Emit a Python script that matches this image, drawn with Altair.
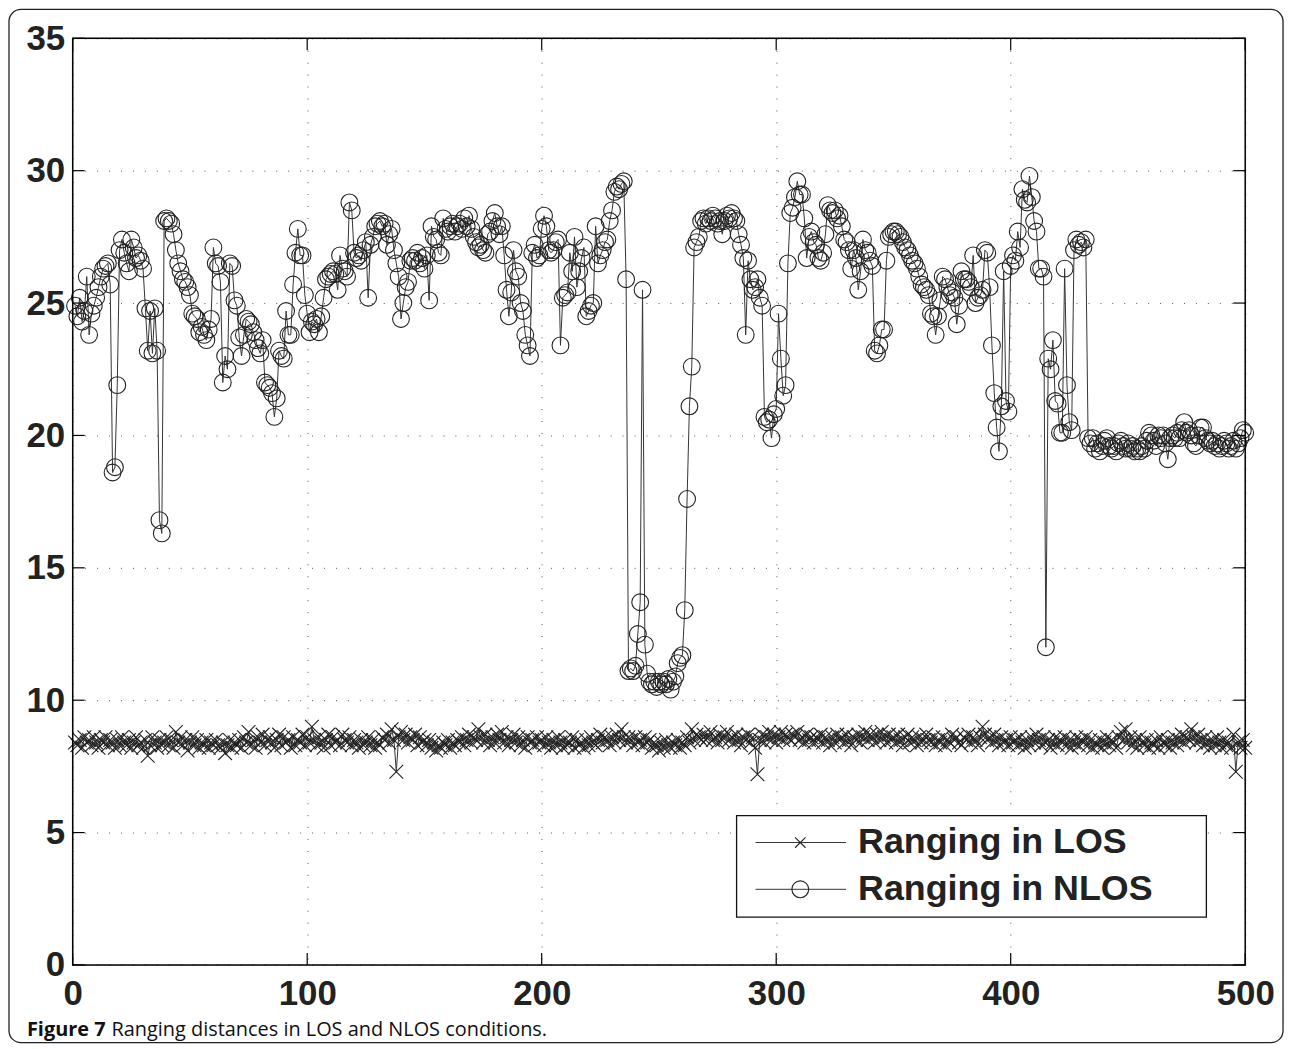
import altair as alt
import pandas as pd

# ---------------- data ----------------
x_index = list(range(1, 501))

los = [
    8.4, 8.3, 8.5, 8.2, 8.6, 8.4, 8.5, 8.3, 8.6, 8.4, 8.2, 8.5, 8.4, 8.6, 8.3, 8.5, 8.4, 8.2, 8.5, 8.3,
    8.6, 8.4, 8.3, 8.5, 8.2, 8.4, 8.6, 8.3, 8.4, 8.2, 8.5, 7.9, 8.3, 8.6, 8.4, 8.2, 8.5, 8.3, 8.4, 8.6,
    8.3, 8.5, 8.2, 8.8, 8.4, 8.6, 8.3, 8.5, 8.1, 8.4, 8.6, 8.3, 8.5, 8.2, 8.4, 8.3, 8.5, 8.2, 8.4, 8.3,
    8.5, 8.3, 8.2, 8.4, 8.0, 8.3, 8.5, 8.2, 8.4, 8.3, 8.5, 8.2, 8.6, 8.4, 8.8, 8.3, 8.5, 8.2, 8.6, 8.4,
    8.7, 8.3, 8.5, 8.6, 8.4, 8.2, 8.5, 8.7, 8.3, 8.6, 8.4, 8.5, 8.2, 8.6, 8.3, 8.5, 8.4, 8.7, 8.3, 8.6,
    8.4, 9.0, 8.5, 8.3, 8.6, 8.4, 8.2, 8.5, 8.7, 8.3, 8.6, 8.4, 8.5, 8.3, 8.7, 8.5, 8.4, 8.6, 8.3, 8.5,
    8.4, 8.2, 8.5, 8.3, 8.4, 8.6, 8.3, 8.5, 8.2, 8.4, 8.3, 8.6, 8.5, 8.7, 8.4, 8.9, 8.5, 7.3, 8.6, 8.8,
    8.5, 8.7, 8.4, 8.6, 8.5, 8.7, 8.3, 8.6, 8.4, 8.5, 8.3, 8.5, 8.2, 8.4, 8.1, 8.3, 8.2, 8.4, 8.3, 8.5,
    8.2, 8.4, 8.3, 8.5, 8.4, 8.6, 8.3, 8.5, 8.7, 8.4, 8.6, 8.5, 8.9, 8.6, 8.4, 8.7, 8.5, 8.3, 8.6, 8.4,
    8.7, 8.5, 8.8, 8.4, 8.6, 8.3, 8.5, 8.7, 8.4, 8.6, 8.3, 8.5, 8.2, 8.6, 8.4, 8.5, 8.3, 8.6, 8.4, 8.5,
    8.3, 8.6, 8.4, 8.2, 8.5, 8.3, 8.6, 8.4, 8.2, 8.5, 8.3, 8.4, 8.6, 8.2, 8.5, 8.3, 8.4, 8.2, 8.5, 8.3,
    8.6, 8.4, 8.3, 8.5, 8.7, 8.4, 8.6, 8.5, 8.3, 8.6, 8.4, 8.7, 8.5, 8.9, 8.6, 8.4, 8.6, 8.5, 8.3, 8.6,
    8.4, 8.5, 8.3, 8.6, 8.4, 8.5, 8.2, 8.4, 8.3, 8.1, 8.4, 8.2, 8.5, 8.3, 8.2, 8.4, 8.3, 8.5, 8.2, 8.4,
    8.3, 8.6, 8.4, 8.9, 8.5, 8.7, 8.6, 8.5, 8.7, 8.5, 8.6, 8.8, 8.5, 8.6, 8.4, 8.7, 8.5, 8.6, 8.8, 8.5,
    8.6, 8.4, 8.7, 8.5, 8.3, 8.6, 8.5, 8.7, 8.4, 8.6, 8.2, 7.2, 8.5, 8.7, 8.4, 8.6, 8.8, 8.5, 8.7, 8.4,
    8.6, 8.8, 8.5, 8.7, 8.6, 8.5, 8.7, 8.6, 8.8, 8.5, 8.6, 8.4, 8.7, 8.5, 8.6, 8.4, 8.6, 8.5, 8.7, 8.4,
    8.6, 8.5, 8.3, 8.6, 8.4, 8.7, 8.5, 8.6, 8.4, 8.7, 8.5, 8.3, 8.6, 8.5, 8.7, 8.4, 8.6, 8.8, 8.5, 8.7,
    8.6, 8.4, 8.7, 8.5, 8.8, 8.6, 8.4, 8.7, 8.5, 8.6, 8.4, 8.7, 8.5, 8.3, 8.6, 8.7, 8.4, 8.6, 8.5, 8.3,
    8.6, 8.4, 8.5, 8.7, 8.5, 8.4, 8.6, 8.3, 8.5, 8.4, 8.6, 8.3, 8.5, 8.4, 8.7, 8.5, 8.6, 8.4, 8.3, 8.6,
    8.5, 8.7, 8.4, 8.6, 8.5, 8.3, 8.6, 9.0, 8.7, 8.5, 8.6, 8.4, 8.7, 8.5, 8.3, 8.6, 8.4, 8.5, 8.3, 8.6,
    8.4, 8.5, 8.3, 8.6, 8.4, 8.2, 8.5, 8.3, 8.6, 8.4, 8.7, 8.5, 8.3, 8.6, 8.4, 8.5, 8.2, 8.4, 8.6, 8.3,
    8.5, 8.4, 8.6, 8.3, 8.5, 8.2, 8.4, 8.6, 8.3, 8.5, 8.4, 8.6, 8.3, 8.5, 8.2, 8.4, 8.3, 8.5, 8.2, 8.4,
    8.6, 8.3, 8.5, 8.4, 8.2, 8.6, 8.8, 8.5, 8.9, 8.4, 8.6, 8.3, 8.5, 8.2, 8.6, 8.4, 8.3, 8.5, 8.2, 8.4,
    8.3, 8.5, 8.2, 8.6, 8.4, 8.3, 8.5, 8.2, 8.4, 8.6, 8.3, 8.5, 8.7, 8.4, 8.6, 8.5, 8.9, 8.6, 8.4, 8.7,
    8.5, 8.3, 8.6, 8.4, 8.2, 8.5, 8.3, 8.6, 8.4, 8.2, 8.5, 8.3, 8.4, 8.2, 8.7, 7.3, 8.4, 8.2, 8.5, 8.2,
]

nlos = [
    24.9, 24.5, 25.2, 24.3, 24.7, 26.0, 23.8, 24.6, 24.9, 25.2,
    25.6, 26.0, 26.3, 26.4, 26.5, 25.7, 18.6, 18.8, 21.9, 27.0,
    27.4, 26.9, 26.5, 26.2, 27.4, 27.1, 26.7, 26.8, 26.6, 26.3,
    24.8, 23.2, 24.7, 23.1, 24.8, 23.2, 16.8, 16.3, 28.1, 28.2,
    28.1, 28.0, 27.6, 27.0, 26.5, 26.2, 25.9, 25.8, 25.6, 25.3,
    24.6, 24.5, 24.4, 23.9, 24.1, 23.8, 23.6, 24.0, 24.4, 27.1,
    26.5, 26.4, 25.8, 22.0, 23.0, 22.5, 26.5, 26.4, 25.1, 24.9,
    23.7, 23.0, 23.8, 24.4, 24.3, 24.2, 23.9, 23.6, 23.3, 23.1,
    23.6, 22.0, 21.9, 21.8, 21.6, 20.7, 21.4, 23.2, 23.0, 22.9,
    24.7, 23.8, 23.8, 25.7, 26.9, 27.8, 26.8, 26.8, 25.3, 24.6,
    23.9, 24.3, 24.2, 24.4, 23.9, 24.5, 25.2, 25.9, 26.0, 26.1,
    26.2, 26.1, 25.5, 26.8, 26.3, 26.2, 26.0, 28.8, 28.5, 26.9,
    26.7, 26.8, 26.6, 27.0, 27.3, 25.2, 27.2, 27.5, 27.9, 28.0,
    28.1, 27.9, 28.0, 27.2, 27.6, 27.8, 27.0, 26.5, 26.0, 24.4,
    25.0, 25.6, 25.8, 26.6, 26.7, 26.6, 26.9, 26.5, 26.7, 26.3,
    26.8, 25.1, 27.9, 27.5, 27.4, 26.9, 26.8, 28.2, 27.8, 27.7,
    27.9, 28.0, 27.7, 27.9, 28.0, 27.8, 28.2, 27.9, 28.3, 27.8,
    27.5, 27.3, 27.1, 27.2, 27.0, 26.9, 27.6, 27.7, 28.1, 28.4,
    27.9, 27.6, 27.9, 26.8, 25.5, 24.5, 25.4, 27.0, 26.2, 26.0,
    25.0, 24.7, 23.8, 23.4, 23.0, 26.9, 27.2, 26.7, 26.8, 27.8,
    28.3, 27.9, 27.0, 26.9, 27.0, 27.3, 27.4, 23.4, 25.2, 25.3,
    25.4, 26.9, 26.2, 27.5, 25.6, 26.2, 26.7, 27.1, 24.5, 24.7,
    24.9, 25.0, 27.9, 26.5, 26.8, 27.0, 27.3, 27.4, 28.1, 28.5,
    29.2, 29.4, 29.3, 29.5, 29.6, 25.9, 11.1, 11.2, 11.1, 11.3,
    12.5, 13.7, 25.5, 12.1, 11.0, 10.7, 10.6, 10.7, 10.5, 10.7,
    10.6, 10.7, 10.6, 10.8, 10.4, 10.7, 10.9, 11.4, 11.6, 11.7,
    13.4, 17.6, 21.1, 22.6, 27.1, 27.3, 27.5, 28.1, 28.2, 28.0,
    28.2, 28.1, 28.3, 28.2, 28.0, 28.1, 27.6, 28.1, 28.3, 28.2,
    28.4, 28.2, 28.1, 27.6, 27.2, 26.7, 23.8, 26.6, 25.9, 25.5,
    25.6, 25.9, 25.2, 24.9, 20.7, 20.5, 20.6, 19.9, 20.8, 21.0,
    24.6, 22.9, 21.5, 21.9, 26.5, 28.4, 28.6, 29.0, 29.6, 29.1,
    29.1, 28.2, 26.7, 27.5, 27.7, 27.3, 27.2, 26.7, 26.6, 26.9,
    27.6, 28.7, 28.5, 28.4, 28.5, 28.2, 28.3, 27.9, 27.4, 27.3,
    27.0, 26.3, 27.0, 26.7, 25.5, 26.2, 27.4, 27.0, 26.9, 26.6,
    26.4, 23.2, 23.1, 23.4, 24.0, 24.0, 26.6, 27.5, 27.6, 27.7,
    27.7, 27.6, 27.5, 27.3, 27.1, 27.0, 26.8, 26.6, 26.5, 26.3,
    26.0, 25.7, 25.6, 25.5, 25.3, 24.6, 24.5, 23.8, 24.5, 25.1,
    26.0, 25.9, 25.6, 25.3, 25.4, 25.2, 24.2, 24.9, 26.2, 25.9,
    25.9, 25.8, 25.6, 26.8, 25.0, 25.2, 25.3, 25.5, 27.0, 26.9,
    25.6, 23.4, 21.6, 20.3, 19.4, 21.1, 26.2, 21.3, 20.9, 26.4,
    26.8, 26.6, 27.7, 27.1, 29.3, 28.9, 28.8, 29.8, 29.0, 28.1,
    27.7, 26.3, 26.3, 26.0, 12.0, 22.9, 22.5, 23.6, 21.3, 21.2,
    20.1, 20.1, 26.3, 21.9, 20.5, 20.2, 27.0, 27.4, 27.2, 27.3,
    27.1, 27.4, 19.9, 19.7, 19.9, 19.5, 19.7, 19.4, 19.6, 19.8,
    19.9, 19.6, 19.5, 19.6, 19.4, 19.7, 19.8, 19.6, 19.5, 19.7,
    19.5, 19.6, 19.4, 19.5, 19.4, 19.6, 19.5, 19.8, 20.1, 20.0,
    19.8, 19.6, 20.0, 19.9, 20.0, 19.7, 19.1, 19.9, 20.0, 19.9,
    20.1, 19.9, 20.2, 20.5, 20.1, 20.2, 20.0, 19.7, 19.6, 20.0,
    20.3, 20.3, 19.9, 19.8, 19.7, 19.8, 19.6, 19.7, 19.5, 19.6,
    19.8, 19.7, 19.5, 19.6, 19.8, 19.5, 19.7, 19.9, 20.2, 20.1,
]

series_names = ["Ranging in LOS", "Ranging in NLOS"]
x_ticks = [0, 100, 200, 300, 400, 500]
y_ticks = [0, 5, 10, 15, 20, 25, 30, 35]
caption_bold = ["Figure 7"]
caption_rest = ["Ranging distances in LOS and NLOS conditions."]

# ---------------- layout constants ----------------
W, H = 1178, 931
INK = "#222222"
FONT = "Liberation Sans"

los_df = pd.DataFrame({"x": x_index, "y": los, "series": series_names[0]})
nlos_df = pd.DataFrame({"x": x_index, "y": nlos, "series": series_names[1]})

xscale = alt.Scale(domain=[0, 500], nice=False, zero=False)
yscale = alt.Scale(domain=[0, 35], nice=False, zero=False)

x_axis = alt.Axis(values=x_ticks, grid=True, gridDash=[1, 11], gridColor="#555555",
                  gridWidth=1, ticks=False, domain=False, labelFont=FONT,
                  labelFontWeight="bold", labelFontSize=35, labelColor=INK,
                  labelPadding=12, labelFlush=False, title=None, format="d")
y_axis = alt.Axis(values=y_ticks, grid=True, gridDash=[1, 11], gridColor="#555555",
                  gridWidth=1, ticks=False, domain=False, labelFont=FONT,
                  labelFontWeight="bold", labelFontSize=35, labelColor=INK,
                  labelPadding=8, title=None, format="d")


def X(field):
    return alt.X(field, type="quantitative", scale=xscale, axis=x_axis)


def Y(field):
    return alt.Y(field, type="quantitative", scale=yscale, axis=y_axis)


X_SHAPE = "M-1,-1L1,1M-1,1L1,-1"

base_los = alt.Chart(los_df).encode(x=X("x"), y=Y("y"))
los_line = base_los.mark_line(color="#333333", strokeWidth=1)
los_pts = base_los.mark_point(shape=X_SHAPE, size=190, filled=False,
                              stroke=INK, strokeWidth=1.1, opacity=1)

base_nlos = alt.Chart(nlos_df).encode(x=X("x"), y=Y("y"))
nlos_line = base_nlos.mark_line(color="#333333", strokeWidth=1)
nlos_pts = base_nlos.mark_point(shape="circle", size=285, filled=False,
                                stroke=INK, strokeWidth=1.1, opacity=1)

# inward ticks (MATLAB style) on all four sides
yt = pd.DataFrame({"v": y_ticks})
xt = pd.DataFrame({"v": x_ticks})
tick_l = alt.Chart(yt).mark_rule(color="#000", strokeWidth=1.2).encode(
    y=Y("v"), x=alt.value(0), x2=alt.value(12))
tick_r = alt.Chart(yt).mark_rule(color="#000", strokeWidth=1.2).encode(
    y=Y("v"), x=alt.value(W - 12), x2=alt.value(W))
tick_b = alt.Chart(xt).mark_rule(color="#000", strokeWidth=1.2).encode(
    x=X("v"), y=alt.value(H - 12), y2=alt.value(H))
tick_t = alt.Chart(xt).mark_rule(color="#000", strokeWidth=1.2).encode(
    x=X("v"), y=alt.value(0), y2=alt.value(12))

one = pd.DataFrame({"k": [0]})
# plot-area box
box = alt.Chart(one).mark_rect(fillOpacity=0, stroke="#000", strokeWidth=1.5).encode(
    x=alt.value(0), x2=alt.value(W), y=alt.value(0), y2=alt.value(H))

# legend drawn by hand
leg_box = alt.Chart(one).mark_rect(fill="white", stroke="#111", strokeWidth=1.3).encode(
    x=alt.value(667), x2=alt.value(1139), y=alt.value(781), y2=alt.value(883))
LOS_Y, NLOS_Y = 808, 855
leg_line1 = alt.Chart(one).mark_rule(color="#333", strokeWidth=1).encode(
    x=alt.value(686), x2=alt.value(777), y=alt.value(LOS_Y))
leg_line2 = alt.Chart(one).mark_rule(color="#333", strokeWidth=1).encode(
    x=alt.value(686), x2=alt.value(777), y=alt.value(NLOS_Y))
leg_m1 = alt.Chart(one).mark_point(shape=X_SHAPE, size=110, filled=False, stroke=INK,
                                   strokeWidth=1.1, opacity=1).encode(
    x=alt.value(731), y=alt.value(LOS_Y))
leg_m2 = alt.Chart(one).mark_point(shape="circle", size=285, filled=False, stroke=INK,
                                   strokeWidth=1.1, opacity=1).encode(
    x=alt.value(731), y=alt.value(NLOS_Y))
leg_t1 = alt.Chart(pd.DataFrame({"t": [series_names[0]]})).mark_text(
    align="left", baseline="middle", font=FONT, fontWeight="bold", fontSize=36,
    color=INK).encode(x=alt.value(789), y=alt.value(LOS_Y), text="t:N")
leg_t2 = alt.Chart(pd.DataFrame({"t": [series_names[1]]})).mark_text(
    align="left", baseline="middle", font=FONT, fontWeight="bold", fontSize=36,
    color=INK).encode(x=alt.value(789), y=alt.value(NLOS_Y), text="t:N")

# caption + outer rounded frame
cap1 = alt.Chart(pd.DataFrame({"t": caption_bold})).mark_text(
    align="left", baseline="alphabetic", font="Open Sans", fontWeight="bold",
    fontSize=20, color="#111").encode(x=alt.value(27 - 73), y=alt.value(1038 - 36), text="t:N")
cap2 = alt.Chart(pd.DataFrame({"t": caption_rest})).mark_text(
    align="left", baseline="alphabetic", font="Open Sans", fontSize=20,
    color="#111").encode(x=alt.value(112 - 73), y=alt.value(1038 - 36), text="t:N")
frame = alt.Chart(one).mark_rect(fillOpacity=0, stroke="#222", strokeWidth=1.3,
                                 cornerRadius=12).encode(
    x=alt.value(9 - 73), x2=alt.value(1289 - 73), y=alt.value(7 - 36), y2=alt.value(1045 - 36))

chart = alt.layer(
    frame, los_line, los_pts, nlos_line, nlos_pts,
    tick_l, tick_r, tick_b, tick_t, box,
    leg_box, leg_line1, leg_line2, leg_m1, leg_m2, leg_t1, leg_t2,
    cap1, cap2,
).properties(
    width=W, height=H,
    autosize=alt.AutoSizeParams(type="none"),
    padding={"left": 65, "top": 28, "right": 42, "bottom": 82},
).configure_view(
    strokeWidth=0,
).configure(background="white")

chart.save("out.html", embed_options={"renderer": "svg", "actions": False})
